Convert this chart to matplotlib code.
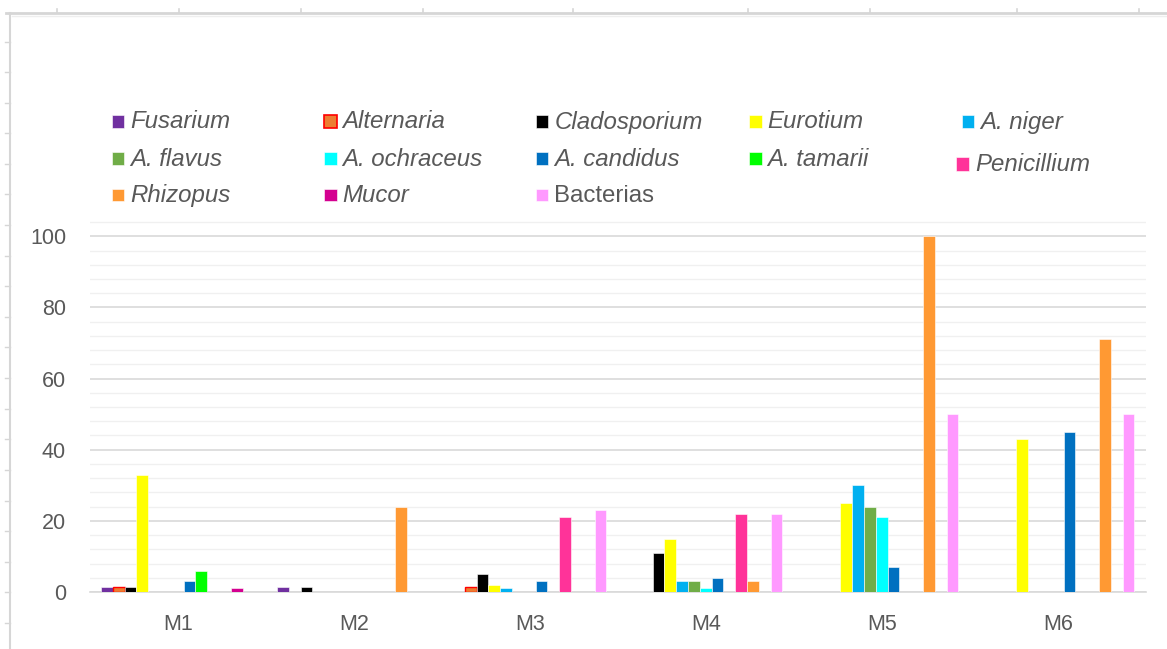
import matplotlib
matplotlib.use("Agg")
import matplotlib.pyplot as plt
from matplotlib.patches import Rectangle
from matplotlib.lines import Line2D
from matplotlib.ticker import MultipleLocator
import numpy as np

plt.rcParams['font.family'] = ['Liberation Sans', 'DejaVu Sans']

# ---- data -------------------------------------------------------------
categories = ['M1', 'M2', 'M3', 'M4', 'M5', 'M6']

series_names = ['Fusarium', 'Alternaria', 'Cladosporium', 'Eurotium', 'A. niger',
                'A. flavus', 'A. ochraceus', 'A. candidus', 'A. tamarii', 'Penicillium',
                'Rhizopus', 'Mucor', 'Bacterias']

fusarium     = [1.3, 1.3, 0, 0, 0, 0]
alternaria   = [1.3, 0, 1.3, 0, 0, 0]
cladosporium = [1.3, 1.3, 5, 11, 0, 0]
eurotium     = [33, 0, 2, 15, 25, 43]
a_niger      = [0, 0, 1, 3, 30, 0]
a_flavus     = [0, 0, 0, 3, 24, 0]
a_ochraceus  = [0, 0, 0, 1, 21, 0]
a_candidus   = [3, 0, 3, 4, 7, 45]
a_tamarii    = [6, 0, 0, 0, 0, 0]
penicillium  = [0, 0, 21, 22, 0, 0]
rhizopus     = [0, 24, 0, 3, 100, 71]
mucor        = [1, 0, 0, 0, 0, 0]
bacterias    = [0, 0, 23, 22, 50, 50]

series_values = [fusarium, alternaria, cladosporium, eurotium, a_niger, a_flavus,
                 a_ochraceus, a_candidus, a_tamarii, penicillium, rhizopus, mucor,
                 bacterias]

colors = ['#7030A0', '#ED7D31', '#000000', '#FFFF00', '#00B0F0', '#70AD47',
          '#00FFFF', '#0070C0', '#00FF00', '#FF3399', '#FF9933', '#D40090',
          '#FF99FF']
edges = ['#FFFFFF', '#FF0000'] + ['#FFFFFF'] * 11
italic = [True] * 12 + [False]

# ---- figure -----------------------------------------------------------
W, H = 1167, 649
fig = plt.figure(figsize=(W / 100, H / 100), dpi=100)
fig.patch.set_facecolor('white')


def fx(px):
    return px / W


def fy(py):
    return 1 - py / H


ax_left, ax_right, ax_bottom, ax_top = 89.7, 1145.7, 592, 218.5
ax = fig.add_axes([fx(ax_left), fy(ax_bottom), fx(ax_right - ax_left),
                   (ax_bottom - ax_top) / H])

n = len(series_names)
x = np.arange(len(categories))
bw = 0.067
for i, (vals, c, ec) in enumerate(zip(series_values, colors, edges)):
    base_lw = 1.0 if ec == '#FF0000' else 0.4
    lws = [base_lw if v > 0 else 0 for v in vals]
    ax.bar(x + (i - (n - 1) / 2) * bw, vals, width=bw, color=c,
           edgecolor=ec, linewidth=lws, zorder=3)

ax.set_xlim(-0.5, len(categories) - 0.5)
ax.set_ylim(0, 105)
ax.yaxis.set_major_locator(MultipleLocator(20))
ax.yaxis.set_minor_locator(MultipleLocator(4))
ax.set_yticks([0, 20, 40, 60, 80, 100])
ax.set_xticks(x)
ax.set_xticklabels(categories)
ax.grid(axis='y', which='minor', color='#F0F0F0', linewidth=1.0, zorder=0)
ax.grid(axis='y', which='major', color='#D9D9D9', linewidth=1.2, zorder=1)
ax.set_axisbelow(True)
for s in ['top', 'right', 'left']:
    ax.spines[s].set_visible(False)
ax.spines['bottom'].set_color('#D9D9D9')
ax.spines['bottom'].set_linewidth(1.2)
ax.tick_params(axis='both', which='both', length=0)
ax.tick_params(axis='y', labelsize=15.5, labelcolor='#595959', pad=17)
ax.tick_params(axis='x', labelsize=15.5, labelcolor='#595959', pad=16)

# ---- legend -----------------------------------------------------------
col_x = [111.7, 324.0, 535.7, 749.0, 961.7]
row_y = [121.5, 158.5, 195.0]
msz = 12.5
for i, (name, c, ec, it) in enumerate(zip(series_names, colors, edges, italic)):
    r, k = divmod(i, 5)
    mx, my = col_x[k], row_y[r]
    size = msz
    if name == 'Penicillium':
        mx, my, size = 956.0, 164.0, 13
    lw = 1.2 if ec == '#FF0000' else 0.4
    fig.add_artist(Rectangle((fx(mx), fy(my + size / 2)), size / W, size / H,
                             transform=fig.transFigure, facecolor=c,
                             edgecolor=ec, linewidth=lw))
    fig.text(fx(mx + size + 6), fy(my + 7), name, fontsize=17.3,
             style='italic' if it else 'normal', color='#595959',
             va='baseline', ha='left')

# ---- sheet frame around the chart --------------------------------------
frame = '#D6D6D6'
fig.add_artist(Line2D([fx(6), fx(W)], [fy(13), fy(13)], color=frame, lw=2.0,
                      transform=fig.transFigure))
fig.add_artist(Line2D([fx(12), fx(W)], [fy(15.5), fy(15.5)], color='#EEEEEE',
                      lw=1.0, transform=fig.transFigure))
fig.add_artist(Line2D([fx(9.5), fx(9.5)], [fy(13), fy(H)], color=frame, lw=1.5,
                      transform=fig.transFigure))
for tx in [57, 179, 301, 423, 573, 748, 870, 1017, 1139]:
    fig.add_artist(Line2D([fx(tx), fx(tx)], [fy(8.5), fy(13)], color=frame,
                          lw=1.2, transform=fig.transFigure))
for k in range(20):
    ty = 41.5 + 30.6 * k
    fig.add_artist(Line2D([fx(5), fx(9.5)], [fy(ty), fy(ty)], color=frame,
                          lw=1.0, transform=fig.transFigure))

fig.savefig('out.png', dpi=100, facecolor='white')
